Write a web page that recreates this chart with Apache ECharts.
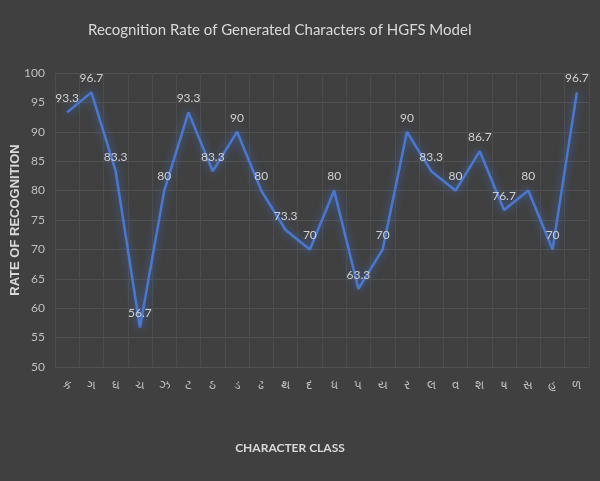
<!DOCTYPE html>
<html>
<head>
<meta charset="utf-8">
<script src="https://cdn.jsdelivr.net/npm/echarts@6/dist/echarts.min.js"></script>
<style>
html,body{margin:0;padding:0;background:#404040;}
#c{width:600px;height:481px;}
</style>
</head>
<body>
<div id="c"></div>
<script>
const categories = ['ક','ગ','ઘ','ચ','ઝ','ટ','ઠ','ડ','ઢ','થ','દ','ધ','પ','ય','ર','લ','વ','શ','ષ','સ','હ','ળ'];
const rates = [93.3, 96.7, 83.3, 56.7, 80, 93.3, 83.3, 90, 80, 73.3, 70, 80, 63.3, 70, 90, 83.3, 80, 86.7, 76.7, 80, 70, 96.7];
const yTicks = [50, 55, 60, 65, 70, 75, 80, 85, 90, 95, 100];

const chart = echarts.init(document.getElementById('c'));
chart.setOption({
  backgroundColor: '#404040',
  animation: false,
  title: {
    text: 'Recognition Rate of Generated Characters of HGFS Model',
    left: 83,
    top: 18,
    textStyle: { color: '#d9d9d9', fontSize: 15, fontWeight: 'normal', fontFamily: 'Lato' }
  },
  grid: { left: 55, right: 11, top: 73, bottom: 114, containLabel: false, outerBoundsMode: 'none' },
  xAxis: {
    type: 'category',
    data: categories,
    boundaryGap: true,
    name: 'CHARACTER CLASS',
    nameLocation: 'middle',
    nameGap: 75,
    nameMoveOverlap: false,
    nameTextStyle: { color: '#d9d9d9', fontSize: 12, fontWeight: 'bold', fontFamily: 'Lato', padding: [0, 64, 0, 0] },
    axisLine: { show: false },
    axisTick: { show: false },
    axisLabel: { color: '#bfbfbf', fontSize: 12, margin: 13, fontFamily: 'Noto Sans' },
    splitLine: { show: true, lineStyle: { color: '#4d4d4d', width: 1 } }
  },
  yAxis: {
    type: 'value',
    min: yTicks[0],
    max: yTicks[yTicks.length - 1],
    interval: 5,
    name: 'RATE OF RECOGNITION',
    nameLocation: 'middle',
    nameGap: 33,
    nameMoveOverlap: false,
    nameRotate: 90,
    nameTextStyle: { color: '#d9d9d9', fontSize: 13, fontWeight: 'bold', fontFamily: 'Liberation Sans' },
    axisLine: { show: false },
    axisTick: { show: false },
    axisLabel: { color: '#bfbfbf', fontSize: 12, margin: 10, fontFamily: 'Lato' },
    splitLine: { show: true, lineStyle: { color: '#515151', width: 1 } }
  },
  series: [{
    type: 'line',
    data: rates,
    symbol: 'circle',
    symbolSize: 0,
    showSymbol: true,
    lineStyle: { color: '#4a78d0', width: 2.5, shadowColor: 'rgba(68,114,196,0.9)', shadowBlur: 8 },
    itemStyle: { color: '#4a78d0' },
    label: {
      show: true,
      position: 'top',
      distance: 8,
      color: '#d0d0d0',
      fontSize: 12,
      fontFamily: 'Lato'
    },
    labelLayout: { hideOverlap: false }
  }]
});
</script>
</body>
</html>
